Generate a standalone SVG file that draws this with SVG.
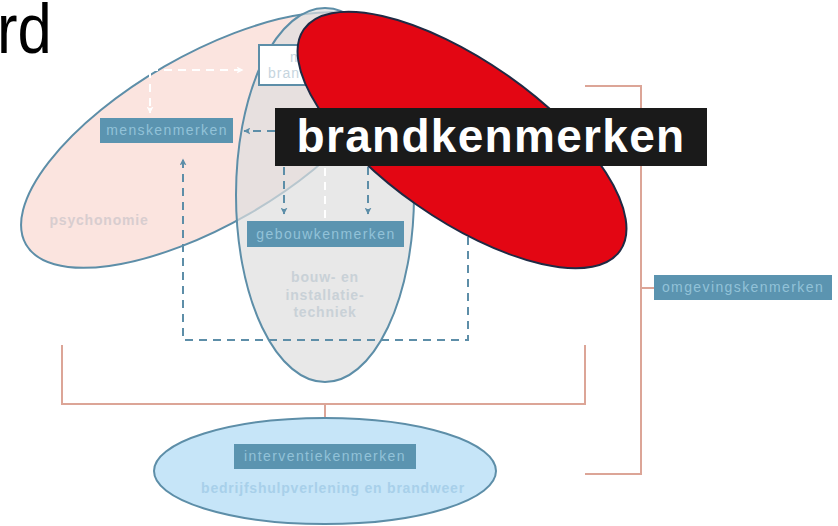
<svg xmlns="http://www.w3.org/2000/svg" width="838" height="526" viewBox="0 0 838 526">
<style>
.ell{stroke:#5d8ea8;stroke-width:2}
.box{fill:#5b94b0}
.bt{font-family:"Liberation Sans",Arial,sans-serif;font-size:14px;fill:#92c2d8;letter-spacing:1.4px;text-anchor:middle}
.lbl{font-family:"Liberation Sans",Arial,sans-serif;font-size:14px;font-weight:bold;text-anchor:middle}
.dash{fill:none;stroke:#5d8ea8;stroke-width:2;stroke-dasharray:8 6}
.wdash{fill:none;stroke:#ffffff;stroke-width:2;stroke-dasharray:8 6}
.brk{fill:none;stroke:#dca597;stroke-width:2}
</style>
<defs>
<marker id="ah" viewBox="0 0 12 12" refX="11" refY="6" markerWidth="7" markerHeight="7" orient="auto" markerUnits="userSpaceOnUse">
<path d="M0,0 L12,6 L0,12 L3,6 z" fill="#5d8ea8"/>
</marker>
<marker id="ahw" viewBox="0 0 12 12" refX="11" refY="6" markerWidth="7" markerHeight="7" orient="auto" markerUnits="userSpaceOnUse">
<path d="M0,0 L12,6 L0,12 L3,6 z" fill="#ffffff"/>
</marker>
</defs>
<rect width="838" height="526" fill="#ffffff"/>
<text x="0" y="53" transform="translate(-3 0) scale(0.88 1)" font-family="Liberation Sans,Arial,sans-serif" font-size="70" fill="#000">rd</text>

<g id="psychonomie">
<ellipse class="ell" cx="207" cy="140" rx="209" ry="85" transform="rotate(-30 207 140)" fill="#fbe4df"/>
<text class="lbl" x="99" y="225" fill="#d8cdcf" style="letter-spacing:0.8px">psychonomie</text>
</g>
<g id="bouwtechniek">
<ellipse class="ell" cx="325" cy="195" rx="89" ry="187" fill="#dedede" fill-opacity="0.7"/>
<text class="lbl" x="325" y="282" fill="#c9d1d7" style="letter-spacing:0.8px">bouw- en</text>
<text class="lbl" x="325" y="300" fill="#c9d1d7" style="letter-spacing:0.8px">installatie-</text>
<text class="lbl" x="325" y="317" fill="#c9d1d7" style="letter-spacing:0.8px">techniek</text>
</g>
<g id="menskenmerken">
<rect class="box" x="100" y="118" width="133" height="25"/>
<text class="bt" x="167" y="135">menskenmerken</text>
</g>
<g id="gebouwkenmerken">
<rect class="box" x="247" y="221" width="157" height="26"/>
<text class="bt" x="326" y="239">gebouwkenmerken</text>
</g>
<g id="mensbrand">
<rect x="259" y="45" width="110" height="40" fill="#ffffff" stroke="#5d8ea8" stroke-width="2"/>
<text x="290" y="62" font-family="Liberation Sans,Arial,sans-serif" font-size="14" fill="#c6d5de" letter-spacing="1">m</text>
<text x="268" y="78" font-family="Liberation Sans,Arial,sans-serif" font-size="14" fill="#c6d5de" letter-spacing="1">bran</text>
</g>
<g id="connectors">
<path class="wdash" d="M150,70 H243" marker-end="url(#ahw)"/>
<path class="wdash" d="M150,70 V113" marker-end="url(#ahw)"/>
<path class="wdash" d="M325,168 V220"/>
<path class="dash" d="M275,131 H244" marker-end="url(#ah)"/>
<path class="dash" d="M284,167 V214" marker-end="url(#ah)"/>
<path class="dash" d="M368,167 V214" marker-end="url(#ah)"/>
<path class="dash" d="M468,167 V340 H183 V159" marker-end="url(#ah)"/>
<path class="brk" d="M62,345 V404 H585 V345"/>
<path class="brk" d="M325,404 V418"/>
<path class="brk" d="M585,86 H641 V474 H585"/>
<path class="brk" d="M641,288 H654"/>
</g>
<g id="brand">
<ellipse cx="462" cy="140" rx="193" ry="79" transform="rotate(35 462 140)" fill="#e30613" stroke="#1f2a44" stroke-width="2"/>
</g>
<g id="brandkenmerken">
<rect x="275" y="108" width="432" height="58" fill="#1a1a1a"/>
<text x="491" y="152" font-family="Liberation Sans,Arial,sans-serif" font-size="46" font-weight="bold" fill="#ffffff" text-anchor="middle" letter-spacing="1.3">brandkenmerken</text>
</g>
<g id="omgevingskenmerken">
<rect class="box" x="654" y="275" width="178" height="25"/>
<text class="bt" x="743" y="292">omgevingskenmerken</text>
</g>
<g id="interventie">
<ellipse class="ell" cx="325" cy="471" rx="171" ry="53" fill="#c6e5f8"/>
<rect class="box" x="234" y="444" width="182" height="25"/>
<text class="bt" x="325" y="461">interventiekenmerken</text>
<text class="lbl" x="333" y="493" fill="#a8d0ea" style="letter-spacing:0.78px">bedrijfshulpverlening en brandweer</text>
</g>
</svg>
